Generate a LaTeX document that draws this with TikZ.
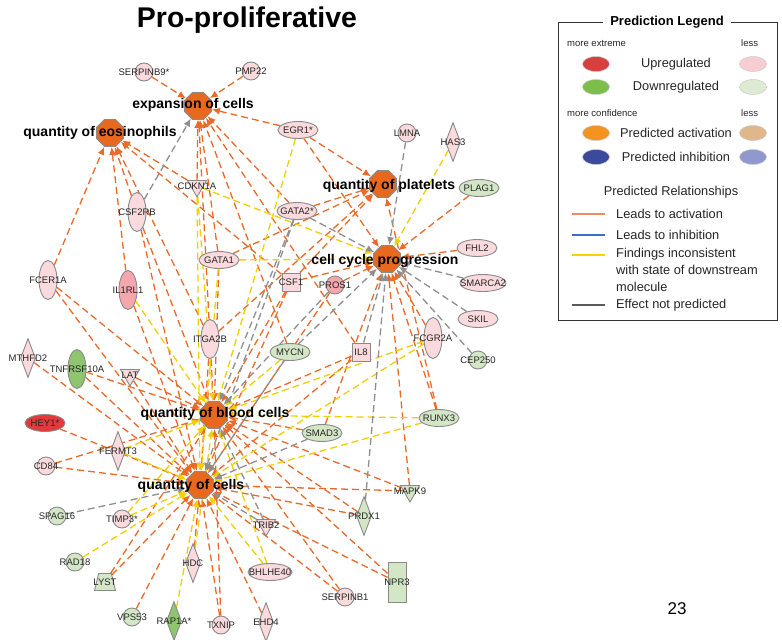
\documentclass[tikz,border=0pt]{standalone}
\usepackage{fontspec}
\setmainfont{Liberation Sans}
\usetikzlibrary{shapes.geometric}
\usetikzlibrary{arrows.meta}
\usetikzlibrary{backgrounds}
\definecolor{hubOrange}{HTML}{E8691E}
\definecolor{nodeGrey}{HTML}{8A8A8A}
\definecolor{molPink}{HTML}{FADADD}
\definecolor{molRose}{HTML}{F4A7AD}
\definecolor{molGreen}{HTML}{D3E7C7}
\definecolor{molDarkGreen}{HTML}{8FC56E}
\definecolor{molRed}{HTML}{E5383B}
\definecolor{edgeOrange}{HTML}{EB6A2A}
\definecolor{edgeYellow}{HTML}{F0D000}
\definecolor{edgeGrey}{HTML}{8F8F8F}
\definecolor{legRed}{HTML}{D8403F}
\definecolor{legGreen}{HTML}{7DBE4A}
\definecolor{legPink}{HTML}{F8CDD2}
\definecolor{legPaleGreen}{HTML}{DCEBD2}
\definecolor{legOrange}{HTML}{F29322}
\definecolor{legTan}{HTML}{E0B68B}
\definecolor{legNavy}{HTML}{3B4A9C}
\definecolor{legLavender}{HTML}{9098CE}
\definecolor{legLineOrange}{HTML}{F08D5C}
\definecolor{legLineBlue}{HTML}{3A6FC4}
\definecolor{legLineYellow}{HTML}{F5D300}
\definecolor{legLineGrey}{HTML}{5A5A5A}
\pgfdeclarelayer{edge_bg}
\pgfdeclarelayer{back_bg}
\pgfsetlayers{back_bg,edge_bg,main}
\newcommand{\molecule}[5]{
    \node (#1) [#2, fill=#3, label=center:{#5}] at (#4) {};
}

\begin{document}
\begin{tikzpicture}[x=1pt, y=-1pt,
    mol/.style={draw=nodeGrey, line width=0.9pt, inner sep=0pt},
    circ/.style={mol, circle, minimum size=18pt},
    ell/.style={mol, ellipse, minimum width=40pt, minimum height=17pt},
    vell/.style={mol, ellipse, minimum width=18pt, minimum height=39pt},
    dia/.style={mol, diamond, minimum width=15pt, minimum height=39pt},
    tri/.style={mol, regular polygon, regular polygon sides=3, shape border rotate=180, minimum size=22pt},
    sq/.style={mol, rectangle, minimum size=18pt},
    trap/.style={mol, trapezium, trapezium left angle=72, trapezium right angle=72, trapezium stretches=true, inner sep=1pt, minimum width=21pt, minimum height=17pt},
    hub/.style={draw=nodeGrey, line width=1pt, fill=hubOrange, regular polygon, regular polygon sides=8, minimum size=29pt, inner sep=0pt},
    hublabel/.style={font=\fontsize{14}{14}\selectfont\bfseries, inner sep=0pt},
    every label/.style={font=\fontsize{9.5}{10}\selectfont, inner sep=0pt, text=black!85},
    act/.style={draw=edgeOrange, line width=1.3pt, dash pattern=on 7pt off 4pt, -{Latex[length=8pt,width=7pt]}},
    incons/.style={act, draw=edgeYellow},
    noeff/.style={act, draw=edgeGrey},
    legtext/.style={font=\fontsize{12.8}{17}\selectfont, inner sep=0pt, text=black!85},
    legsmall/.style={font=\fontsize{9.5}{10}\selectfont, inner sep=0pt, text=black!85},
    legell/.style={ellipse, draw=black!20, line width=0.5pt, minimum width=27pt, minimum height=15pt, inner sep=0pt}]

    \useasboundingbox (0,0) rectangle (782,640);
    \begin{pgfonlayer}{back_bg}
        \fill[white] (0,0) rectangle (782,640);
    \end{pgfonlayer}

    \node (title) [font=\fontsize{28.5}{30}\selectfont\bfseries, inner sep=0pt] at (247,20) {Pro-proliferative};

    % functions
    \node (expansion) [hub] at (198,106) {};
    \node (eosinophils) [hub] at (110,133) {};
    \node (platelets) [hub] at (383,184) {};
    \node (cellcycle) [hub] at (387,259) {};
    \node (blood) [hub] at (214,415) {};
    \node (qcells) [hub] at (200,485) {};

    % molecules
    \molecule{SERPINB9}{circ}{molPink}{144,72}{SERPINB9*}
    \molecule{PMP22}{circ}{molPink}{251,71}{PMP22}
    \molecule{EGR1}{ell}{molPink}{298,130}{EGR1*}
    \molecule{LMNA}{circ}{molPink}{407,133}{LMNA}
    \molecule{HAS3}{dia}{molPink}{453,142}{HAS3}
    \molecule{PLAG1}{ell}{molGreen}{479,188}{PLAG1}
    \molecule{CDKN1A}{tri}{molPink}{197,186}{CDKN1A}
    \molecule{CSF2RB}{vell}{molPink}{137,212}{CSF2RB}
    \molecule{GATA2}{ell}{molPink}{297,211}{GATA2*}
    \molecule{FHL2}{ell}{molPink}{477,248}{FHL2}
    \molecule{GATA1}{ell}{molPink}{219,260}{GATA1}
    \molecule{CSF1}{sq}{molPink}{291,282}{CSF1}
    \molecule{PROS1}{circ}{molRose}{335,285}{PROS1}
    \molecule{SMARCA2}{ell, minimum width=46pt}{molPink}{483,283}{SMARCA2}
    \molecule{FCER1A}{vell}{molPink}{48,280}{FCER1A}
    \molecule{IL1RL1}{vell}{molRose}{128,290}{IL1RL1}
    \molecule{SKIL}{ell}{molPink}{478,319}{SKIL}
    \molecule{FCGR2A}{vell, minimum height=41pt}{molPink}{433,338}{FCGR2A}
    \molecule{ITGA2B}{vell}{molPink}{210,339}{ITGA2B}
    \molecule{MYCN}{ell}{molGreen}{290,352}{MYCN}
    \molecule{IL8}{sq}{molPink}{361,352}{IL8}
    \molecule{CEP250}{circ}{molGreen}{478,360}{CEP250}
    \molecule{MTHFD2}{dia}{molPink}{28,358}{MTHFD2}
    \molecule{TNFRSF10A}{vell}{molDarkGreen}{77,369}{TNFRSF10A}
    \molecule{LAT}{tri}{molPink}{130,375}{LAT}
    \molecule{HEY1}{ell}{molRed}{45,423}{HEY1*}
    \molecule{RUNX3}{ell}{molGreen}{439,418}{RUNX3}
    \molecule{SMAD3}{ell}{molGreen}{322,433}{SMAD3}
    \molecule{FERMT3}{dia}{molPink}{118,451}{FERMT3}
    \molecule{CD84}{circ}{molPink}{46,466}{CD84}
    \molecule{MAPK9}{tri}{molGreen}{410,491}{MAPK9}
    \molecule{PRDX1}{dia}{molGreen}{364,516}{PRDX1}
    \molecule{SPAG16}{circ}{molGreen}{57,516}{SPAG16}
    \molecule{TIMP3}{circ}{molPink}{122,519}{TIMP3*}
    \molecule{TRIB2}{tri}{molPink}{266,525}{TRIB2}
    \molecule{RAD18}{circ}{molGreen}{75,562}{RAD18}
    \molecule{HDC}{dia}{molPink}{193,563}{HDC}
    \molecule{BHLHE40}{ell, minimum width=44pt}{molPink}{270,572}{BHLHE40}
    \molecule{NPR3}{sq, minimum height=40pt}{molGreen}{397,582}{NPR3}
    \molecule{SERPINB1}{circ}{molPink}{345,597}{SERPINB1}
    \molecule{LYST}{trap}{molGreen}{105,582}{LYST}
    \molecule{VPS53}{circ}{molGreen}{132,617}{VPS53}
    \molecule{RAP1A}{dia}{molDarkGreen}{174,621}{RAP1A*}
    \molecule{TXNIP}{circ}{molPink}{221,625}{TXNIP}
    \molecule{EHD4}{dia}{molPink}{266,622}{EHD4}

    \begin{pgfonlayer}{edge_bg}
        \foreach \src/\dst in {SERPINB9/expansion, PMP22/expansion, EGR1/expansion, CDKN1A/expansion, GATA1/expansion, ITGA2B/expansion, MYCN/expansion, IL8/expansion, GATA2/expansion,
            FCER1A/eosinophils, CSF2RB/eosinophils, IL1RL1/eosinophils, CDKN1A/eosinophils, ITGA2B/eosinophils, CSF1/eosinophils,
            EGR1/platelets, GATA2/platelets, GATA1/platelets, ITGA2B/platelets, CSF1/platelets, RUNX3/platelets,
            EGR1/cellcycle, PLAG1/cellcycle, FHL2/cellcycle, FCGR2A/cellcycle, CSF1/cellcycle, PROS1/cellcycle, RUNX3/cellcycle, MAPK9/cellcycle, SMAD3/cellcycle,
            FCER1A/blood, CSF2RB/blood, GATA1/blood, ITGA2B/blood, CSF1/blood, IL8/blood, TNFRSF10A/blood, LAT/blood, CD84/blood, SMAD3/blood, MAPK9/blood, PRDX1/blood, NPR3/blood, SERPINB1/blood, LYST/blood, TXNIP/blood,
            FCER1A/qcells, CSF2RB/qcells, IL1RL1/qcells, ITGA2B/qcells, CSF1/qcells, IL8/qcells, PROS1/qcells, MTHFD2/qcells, TNFRSF10A/qcells, LAT/qcells, HEY1/qcells, CD84/qcells, MAPK9/qcells, PRDX1/qcells, NPR3/qcells, SERPINB1/qcells, LYST/qcells, VPS53/qcells, TXNIP/qcells, EHD4/qcells, HDC/qcells}
            \draw [act] (\src) -- (\dst);
        \foreach \src/\dst in {EGR1/blood, HAS3/cellcycle, GATA1/cellcycle, CDKN1A/cellcycle, CDKN1A/blood, CDKN1A/qcells, FCGR2A/blood, FCGR2A/qcells, IL1RL1/blood, MYCN/blood, GATA1/qcells,
            RUNX3/blood, RUNX3/qcells, FERMT3/blood, FERMT3/qcells, TIMP3/blood, TIMP3/qcells, RAD18/qcells, HDC/blood, BHLHE40/blood, BHLHE40/qcells, RAP1A/qcells}
            \draw [incons] (\src) -- (\dst);
        \foreach \src/\dst in {CSF2RB/expansion, LMNA/cellcycle, SMARCA2/cellcycle, SKIL/cellcycle, CEP250/cellcycle, IL8/cellcycle, PRDX1/cellcycle, GATA2/cellcycle, MYCN/cellcycle,
            GATA2/blood, GATA2/qcells, PROS1/blood, MYCN/qcells, SMAD3/qcells, SPAG16/qcells, TRIB2/qcells, TRIB2/blood}
            \draw [noeff] (\src) -- (\dst);
    \end{pgfonlayer}

    \node (lbl_expansion) [hublabel] at (193,105) {expansion of cells};
    \node (lbl_eosinophils) [hublabel] at (100,133) {quantity of eosinophils};
    \node (lbl_platelets) [hublabel] at (389,186) {quantity of platelets};
    \node (lbl_cellcycle) [hublabel] at (385,261) {cell cycle progression};
    \node (lbl_blood) [hublabel] at (215,414) {quantity of blood cells};
    \node (lbl_qcells) [hublabel] at (191,486) {quantity of cells};

    \node (pagenum) [font=\fontsize{17}{17}\selectfont, inner sep=0pt] at (677,609) {23};

    % legend
    \draw [line width=0.9pt, black!80] (558,22) rectangle (777,320);
    \node (legtitle) [font=\fontsize{13}{13}\selectfont\bfseries, fill=white, inner xsep=7pt, inner ysep=2pt] at (667,22) {Prediction Legend};
    \node (extreme) [legsmall, anchor=west] at (567,43) {more extreme};
    \node (lessA) [legsmall, anchor=west] at (741,43) {less};
    \node (confidence) [legsmall, anchor=west] at (567,113) {more confidence};
    \node (lessB) [legsmall, anchor=west] at (741,113) {less};
    \foreach \y/\cl/\cr/\txt in {64/legRed/legPink/Upregulated, 87/legGreen/legPaleGreen/Downregulated, 133/legOrange/legTan/Predicted activation, 157/legNavy/legLavender/Predicted inhibition} {
        \node (leg\cl) [legell, fill=\cl] at (596,\y) {};
        \node (leg\cr) [legell, fill=\cr] at (753,\y) {};
        \node (txt\cl) [legtext] at (676,\y) {\txt};
    }
    \node (relhead) [legtext] at (671,192) {Predicted Relationships};
    \node (legAct) [legtext, anchor=west] at (616,214) {Leads to activation};
    \node (legInh) [legtext, anchor=west] at (616,235) {Leads to inhibition};
    \node (legInc) [legtext, anchor=north west, align=left] at (616,248) {Findings inconsistent\\with state of downstream\\molecule};
    \node (legNone) [legtext, anchor=west] at (616,305) {Effect not predicted};
    \draw [legLineOrange, line width=1.2pt] ([xshift=-11pt]legAct.west) -- ++(-33,0);
    \draw [legLineBlue, line width=1.2pt] ([xshift=-11pt]legInh.west) -- ++(-33,0);
    \draw [legLineYellow, line width=1.2pt] ([xshift=-11pt,yshift=-7pt]legInc.north west) -- ++(-33,0);
    \draw [legLineGrey, line width=1.2pt] ([xshift=-11pt]legNone.west) -- ++(-33,0);
\end{tikzpicture}
\end{document}
